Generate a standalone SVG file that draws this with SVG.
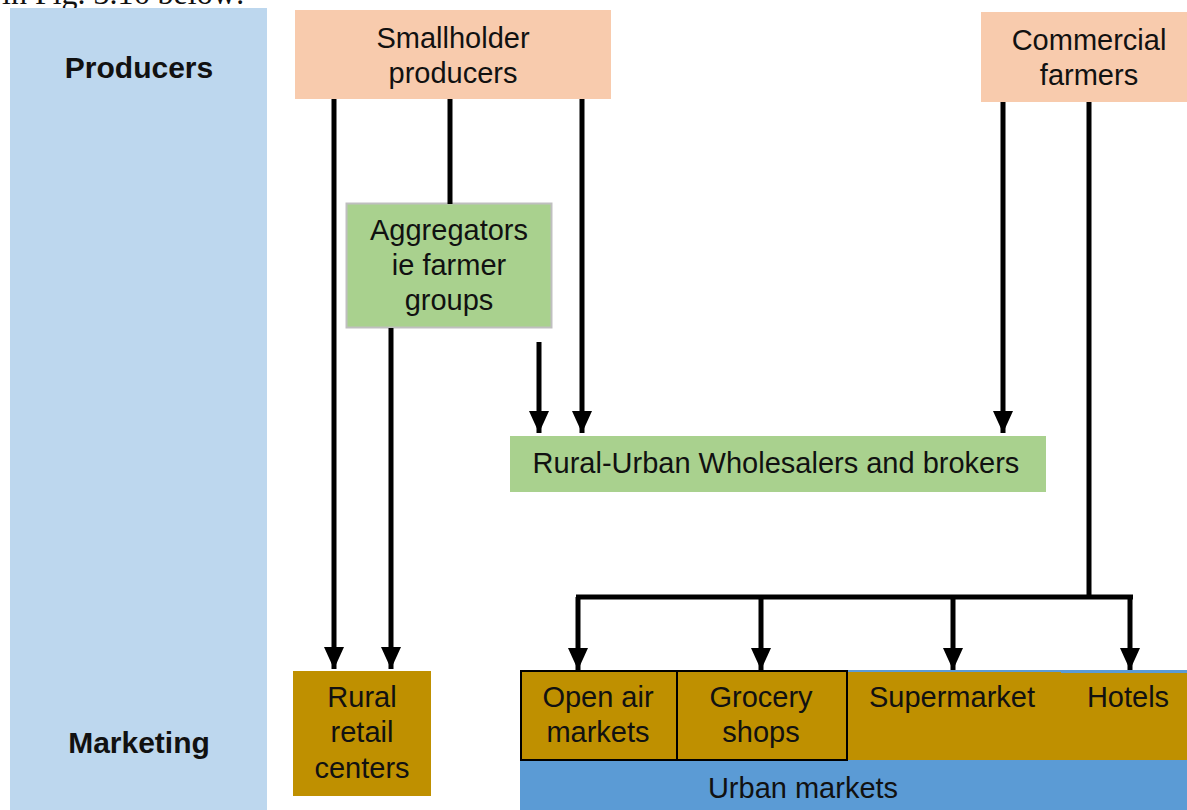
<svg xmlns="http://www.w3.org/2000/svg" width="1187" height="810" viewBox="0 0 1187 810">
  <defs>
    <marker id="arrow" markerWidth="22" markerHeight="20" refX="22" refY="10" orient="auto" markerUnits="userSpaceOnUse" viewBox="0 0 22 20">
      <path d="M0,0 L22,10 L0,20 Z" fill="#000"/>
    </marker>
    <style>
      .lbl { font-family: "Liberation Sans", Arial, sans-serif; font-size: 29px; fill: #111; text-anchor: middle; }
      .side { font-family: "Liberation Sans", Arial, sans-serif; font-size: 30px; font-weight: bold; fill: #111; text-anchor: middle; }
      .peach { fill: #F8CBAD; }
      .green { fill: #A9D18E; }
      .gold { fill: #BF9000; }
      .edge { stroke: #000; stroke-width: 5; fill: none; }
      .arr { marker-end: url(#arrow); }
    </style>
  </defs>

  <rect width="1187" height="810" fill="#fff"/>

  <!-- caption line running off the top edge -->
  <text x="2" y="4" font-family="Liberation Serif, Times New Roman, serif" font-size="32" fill="#111">in Fig. 3.16 below:</text>

  <!-- side band with stage labels -->
  <g id="stages">
    <rect x="10" y="8" width="257" height="802" fill="#BDD7EE"/>
    <text class="side" x="139" y="78">Producers</text>
    <text class="side" x="139" y="753">Marketing</text>
  </g>

  <g id="smallholder">
    <rect class="peach" x="295" y="10" width="316" height="89"/>
    <text class="lbl" x="453" y="48">Smallholder</text>
    <text class="lbl" x="453" y="83">producers</text>
  </g>

  <g id="commercial">
    <rect class="peach" x="981" y="12" width="206" height="90"/>
    <text class="lbl" x="1089" y="50">Commercial</text>
    <text class="lbl" x="1089" y="85">farmers</text>
  </g>

  <g id="aggregators">
    <rect class="green" x="346.5" y="203.5" width="205" height="124" stroke="#BFBFBF" stroke-width="2"/>
    <text class="lbl" x="449" y="240">Aggregators</text>
    <text class="lbl" x="449" y="275">ie farmer</text>
    <text class="lbl" x="449" y="310">groups</text>
  </g>

  <g id="wholesalers">
    <rect class="green" x="510" y="436" width="536" height="56"/>
    <text class="lbl" x="776" y="473">Rural-Urban Wholesalers and brokers</text>
  </g>

  <g id="rural-retail">
    <rect class="gold" x="293" y="671" width="138" height="125"/>
    <text class="lbl" x="362" y="707">Rural</text>
    <text class="lbl" x="362" y="742">retail</text>
    <text class="lbl" x="362" y="778">centers</text>
  </g>

  <g id="urban-markets">
    <rect x="520" y="670" width="667" height="140" fill="#5B9BD5"/>
    <text class="lbl" x="803" y="798">Urban markets</text>
  </g>

  <g id="supermarket">
    <rect class="gold" x="847" y="672" width="214" height="88"/>
    <text class="lbl" x="952" y="707">Supermarket</text>
  </g>

  <g id="hotels">
    <rect class="gold" x="1060" y="673" width="127" height="87"/>
    <text class="lbl" x="1128" y="707">Hotels</text>
  </g>

  <g id="open-air">
    <rect class="gold" x="521" y="671" width="156" height="89" stroke="#000" stroke-width="2"/>
    <text class="lbl" x="598" y="707">Open air</text>
    <text class="lbl" x="598" y="742">markets</text>
  </g>

  <g id="grocery">
    <rect class="gold" x="677" y="671" width="170" height="89" stroke="#000" stroke-width="2"/>
    <text class="lbl" x="761" y="707">Grocery</text>
    <text class="lbl" x="761" y="742">shops</text>
  </g>

  <g id="connectors">
    <line class="edge arr" x1="334" y1="99" x2="334" y2="669"/>
    <line class="edge" x1="450" y1="99" x2="450" y2="204"/>
    <line class="edge arr" x1="582" y1="99" x2="582" y2="433"/>
    <line class="edge arr" x1="391" y1="328" x2="391" y2="669"/>
    <line class="edge arr" x1="539" y1="342" x2="539" y2="433"/>
    <line class="edge arr" x1="1003" y1="102" x2="1003" y2="433"/>
    <polyline class="edge" points="1089,102 1089,597"/>
    <line class="edge" x1="576" y1="597" x2="1133" y2="597"/>
    <line class="edge arr" x1="578" y1="597" x2="578" y2="670"/>
    <line class="edge arr" x1="761" y1="597" x2="761" y2="670"/>
    <line class="edge arr" x1="953" y1="597" x2="953" y2="670"/>
    <line class="edge arr" x1="1130" y1="597" x2="1130" y2="670"/>
  </g>
</svg>
